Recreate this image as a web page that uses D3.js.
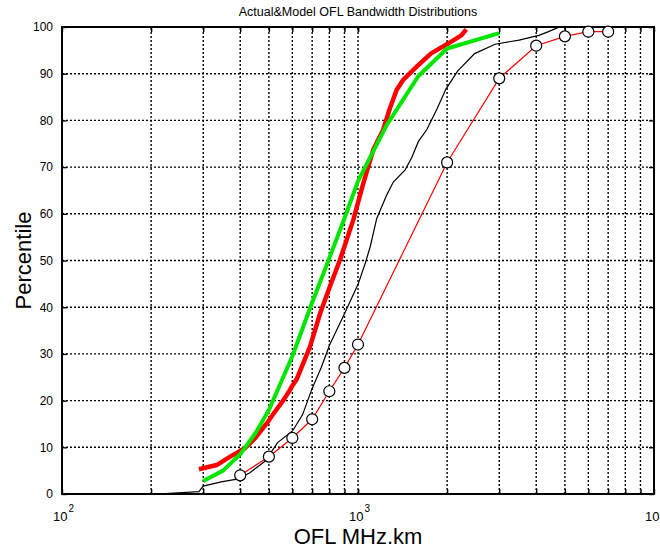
<!DOCTYPE html>
<html>
<head>
<meta charset="utf-8">
<script src="https://cdn.jsdelivr.net/npm/d3@7"></script>
<style>
  html, body { margin: 0; padding: 0; background: #fff; }
  svg { display: block; font-family: Arial, "Liberation Sans", sans-serif; }
</style>
</head>
<body>
<svg id="chart" width="660" height="549"></svg>
<script>
// Bandwidth (MHz.km) and cumulative percentile for each curve
const actualRedBw = [290, 333, 370, 415, 450, 497, 510, 560, 589, 600, 621, 688, 745, 803, 869, 964, 1042, 1126, 1217, 1280, 1350, 1426, 1585, 1762, 2009, 2234, 2322];
const actualRedPct = [5.3, 6.2, 8.0, 9.8, 12, 15.5, 16.6, 20.1, 22.3, 23.2, 24.6, 31.5, 38.7, 44.4, 50.1, 58.7, 66.5, 73.7, 78, 82.5, 86.5, 88.8, 91.6, 94.3, 96.4, 98.2, 99.5];

const actualBlackBw = [210, 290, 300, 345, 390, 430, 485, 535, 601, 650, 697, 750, 803, 891, 1002, 1058, 1100, 1157, 1250, 1316, 1443, 1518, 1600, 1707, 1850, 1982, 2173, 2477, 2905, 3500, 4083, 4400, 4666, 4800];
const actualBlackPct = [0, 0.5, 1.7, 2.6, 3.2, 4.5, 7, 11, 13.5, 17, 22.3, 27, 32, 38, 45, 49.4, 53, 59, 64, 66.8, 69.4, 72, 75.5, 78, 82.5, 86.7, 90.6, 94.3, 96.3, 97.2, 98.2, 99, 99.7, 100];

const modelGreenBw = [300, 350, 400, 450, 500, 600, 700, 800, 900, 1000, 1250, 1600, 2000, 3000];
const modelGreenPct = [2.8, 5.0, 8.5, 13, 18, 29.5, 41, 50.5, 59, 67, 79, 89.5, 95.4, 98.7];

const modelCircleBw = [400, 500, 600, 700, 800, 900, 1000, 2000, 3000, 4000, 5000, 6000, 7000];
const modelCirclePct = [4, 8, 12, 16, 22, 27, 32, 71, 89, 96, 98, 99, 99];

const yTicks = [0, 10, 20, 30, 40, 50, 60, 70, 80, 90, 100];
const xDecades = [100, 1000, 10000];
const xDecadeExp = ["2", "3", "4"];
const xGrid = [200, 300, 400, 500, 600, 700, 800, 900, 1000, 2000, 3000, 4000, 5000, 6000, 7000, 8000, 9000];

const titleText = "Actual&Model OFL Bandwidth Distributions";
const xLabel = "OFL MHz.km";
const yLabel = "Percentile";

const svg = d3.select("#chart");
const W = 660, H = 549;
const m = { left: 62, right: 6, top: 27, bottom: 55 };
const x = d3.scaleLog().domain([100, 10000]).range([m.left, W - m.right]);
const y = d3.scaleLinear().domain([0, 100]).range([H - m.bottom, m.top]);
const pw = W - m.left - m.right, ph = H - m.top - m.bottom;

// dotted grid
const grid = svg.append("g");
grid.selectAll("line.gx").data(xGrid).join("line")
  .attr("x1", d => x(d)).attr("x2", d => x(d))
  .attr("y1", y(0)).attr("y2", y(100))
  .attr("stroke", "#000").attr("stroke-width", 1.4).attr("stroke-dasharray", "2,2");
grid.selectAll("line.gy").data(yTicks.slice(1, -1)).join("line")
  .attr("x1", x(100)).attr("x2", x(10000))
  .attr("y1", d => y(d)).attr("y2", d => y(d))
  .attr("stroke", "#000").attr("stroke-width", 1.4).attr("stroke-dasharray", "2,2");

// inward ticks on all four sides
const tick = 5;
const axB = svg.append("g").attr("transform", `translate(0,${y(0)})`)
  .call(d3.axisBottom(x).tickValues(xGrid.concat(xDecades)).tickSize(-tick).tickFormat(""));
const axT = svg.append("g").attr("transform", `translate(0,${y(100)})`)
  .call(d3.axisTop(x).tickValues(xGrid.concat(xDecades)).tickSize(-tick).tickFormat(""));
const axL = svg.append("g").attr("transform", `translate(${x(100)},0)`)
  .call(d3.axisLeft(y).tickValues(yTicks).tickSize(-tick).tickPadding(9));
const axR = svg.append("g").attr("transform", `translate(${x(10000)},0)`)
  .call(d3.axisRight(y).tickValues(yTicks).tickSize(-tick).tickFormat(""));
[axB, axT, axL, axR].forEach(g => {
  g.select(".domain").remove();
  g.selectAll(".tick line").attr("stroke", "#000").attr("stroke-width", 1.4);
});
axL.selectAll(".tick text").attr("font-size", 12).attr("fill", "#000")
  .attr("font-family", "Arial, 'Liberation Sans', sans-serif");

// decade labels 10^n
const decLab = svg.append("g").selectAll("text").data(xDecades).join("text")
  .attr("x", d => x(d) - 9).attr("y", y(0) + 27)
  .attr("font-size", 13).attr("fill", "#000");
decLab.append("tspan").text("10");
decLab.append("tspan").attr("dy", -9).attr("font-size", 10).attr("dx", 1)
  .text((d, i) => xDecadeExp[i]);

// frame
svg.append("rect").attr("x", m.left).attr("y", m.top).attr("width", pw).attr("height", ph)
  .attr("fill", "none").attr("stroke", "#000").attr("stroke-width", 2);

const line = d3.line().x(d => x(d[0])).y(d => y(d[1]));
const zip = (a, b) => a.map((v, i) => [v, b[i]]);

// thin black actual curve
svg.append("path").datum(zip(actualBlackBw, actualBlackPct))
  .attr("d", line).attr("fill", "none").attr("stroke", "#000").attr("stroke-width", 1.2);

// thin red model with open circles
svg.append("path").datum(zip(modelCircleBw, modelCirclePct))
  .attr("d", line).attr("fill", "none").attr("stroke", "#ff0000").attr("stroke-width", 1.2);

// thick red actual curve
svg.append("path").datum(zip(actualRedBw, actualRedPct))
  .attr("d", line).attr("fill", "none").attr("stroke", "#ff0000").attr("stroke-width", 4.5)
  .attr("stroke-linejoin", "round");

// thick green model curve
svg.append("path").datum(zip(modelGreenBw, modelGreenPct))
  .attr("d", line).attr("fill", "none").attr("stroke", "#00e600").attr("stroke-width", 4)
  .attr("stroke-linejoin", "round");

svg.append("g").selectAll("circle").data(zip(modelCircleBw, modelCirclePct)).join("circle")
  .attr("cx", d => x(d[0])).attr("cy", d => y(d[1])).attr("r", 5.5)
  .attr("fill", "#fff").attr("stroke", "#000").attr("stroke-width", 1.2);

// titles
svg.append("text").attr("x", (x(100) + x(10000)) / 2).attr("y", 16)
  .attr("text-anchor", "middle").attr("font-size", 12.5).text(titleText);
svg.append("text").attr("x", (x(100) + x(10000)) / 2).attr("y", 544)
  .attr("text-anchor", "middle").attr("font-size", 22).text(xLabel);
svg.append("text").attr("transform", `translate(31,${(y(0) + y(100)) / 2}) rotate(-90)`)
  .attr("text-anchor", "middle").attr("font-size", 22).text(yLabel);
</script>
</body>
</html>
